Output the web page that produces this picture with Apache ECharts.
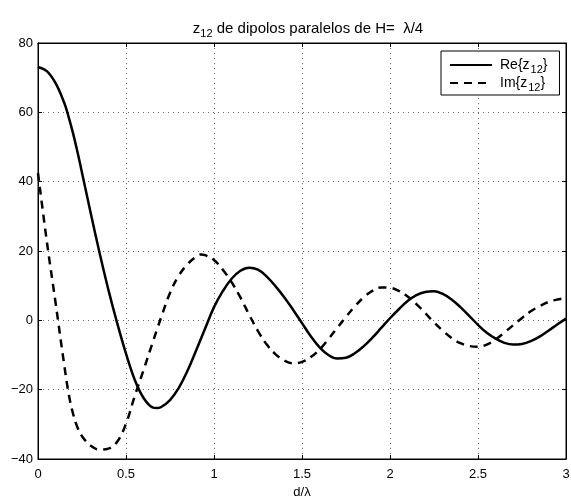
<!DOCTYPE html>
<html>
<head>
<meta charset="utf-8">
<script src="https://cdn.jsdelivr.net/npm/echarts@6/dist/echarts.min.js"></script>
<style>
  html, body { margin: 0; padding: 0; background: #fff; }
  #chart { width: 571px; height: 497px; }
</style>
</head>
<body>
<div id="chart"></div>
<script>
// d/lambda sample points
const dVals = [
  0.00, 0.05, 0.10, 0.15, 0.175, 0.20, 0.225, 0.25, 0.30, 0.35, 0.40, 0.45,
  0.50, 0.55, 0.60, 0.65, 0.675, 0.70, 0.75, 0.80, 0.85, 0.90, 0.925, 0.95,
  1.00, 1.05, 1.10, 1.15, 1.20, 1.25, 1.30, 1.35, 1.40, 1.45,
  1.50, 1.55, 1.60, 1.65, 1.70, 1.75, 1.80, 1.85, 1.90, 1.95,
  2.00, 2.05, 2.10, 2.15, 2.20, 2.25, 2.30, 2.35, 2.40, 2.45,
  2.50, 2.55, 2.60, 2.65, 2.70, 2.75, 2.80, 2.85, 2.90, 2.95,
  3.00
];
// Re{z12}
const reZ12 = [
  73.1, 71.9, 68.4, 62.6, 58.5, 53.8, 48.4, 42.6, 30.8, 19.4, 8.8, -0.8,
  -9.6, -17.2, -22.4, -25.1, -25.3, -25.0, -23.0, -19.5, -14.5, -8.5, -5.4, -2.3,
  3.8, 8.4, 12.0, 14.3, 15.2, 14.6, 12.6, 9.8, 6.6, 3.0,
  -0.8, -4.6, -7.8, -10.0, -11.0, -10.8, -9.5, -7.5, -5.0, -2.2,
  0.6, 3.2, 5.6, 7.3, 8.2, 8.4, 7.6, 6.0, 3.8, 1.3,
  -1.3, -3.6, -5.3, -6.5, -7.0, -6.8, -6.0, -4.7, -3.0, -1.2,
  0.5
];
// Im{z12}
const imZ12 = [
  42.5, 22.8, 5.0, -13.2, -21.4, -27.1, -31.0, -33.4, -36.2, -37.3, -37.0, -35.0,
  -29.8, -21.8, -14.3, -6.6, -2.8, 0.9, 7.9, 12.9, 16.2, 18.4, 19.0, 18.8,
  17.4, 14.6, 11.0, 6.6, 1.6, -3.1, -7.0, -9.8, -11.6, -12.4,
  -12.0, -10.6, -8.4, -5.4, -2.2, 1.0, 4.0, 6.6, 8.5, 9.5,
  9.4, 8.5, 6.9, 4.7, 2.1, -0.6, -3.0, -5.1, -6.6, -7.4,
  -7.6, -7.0, -5.5, -3.5, -1.4, 0.7, 2.6, 4.1, 5.3, 6.0,
  6.4
];

const FONT = 'Liberation Sans';

const chart = echarts.init(document.getElementById('chart'));

const minusFmt = v => String(v).replace('-', '\u2212');

const tickOpts = { inside: true, length: 4, lineStyle: { color: '#000' } };
const dotted = { show: true, lineStyle: { color: '#666', type: [1, 4], width: 1 } };

chart.setOption({
  animation: false,
  title: {
    text: 'z{s|12} de dipolos paralelos de H=  λ/4',
    left: 303,
    textAlign: 'center',
    top: 13,
    textStyle: {
      fontFamily: FONT, fontSize: 15, fontWeight: 'normal', color: '#000',
      rich: { s: { fontFamily: FONT, fontSize: 11, color: '#000', verticalAlign: 'bottom', padding: [10, 0, 0, 0] } }
    }
  },
  legend: {
    orient: 'vertical',
    left: 441,
    top: 51,
    backgroundColor: '#fff',
    borderColor: '#000',
    borderWidth: 1,
    borderRadius: 0,
    padding: [7, 12, 2, 8],
    itemWidth: 42,
    itemHeight: 14,
    itemGap: 1,
    itemStyle: { opacity: 0 },
    data: ['Re', 'Im'],
    formatter: name => name + '{z{s|12}}',
    textStyle: {
      fontFamily: FONT, fontSize: 14, color: '#000', padding: [0, 0, 0, 3],
      rich: { s: { fontFamily: FONT, fontSize: 11, color: '#000', verticalAlign: 'bottom', padding: [9, 0, 0, 1] } }
    }
  },
  grid: {
    left: 38, right: 5, top: 43, bottom: 38,
    outerBoundsMode: 'none',
    show: true, borderColor: '#000', borderWidth: 1
  },
  xAxis: [
    {
      type: 'value', min: 0, max: 3, interval: 0.5,
      name: 'd/λ', nameLocation: 'middle', nameGap: 23,
      nameTextStyle: { fontFamily: FONT, fontSize: 13, color: '#000' },
      axisLine: { show: true, onZero: false, lineStyle: { color: '#000' } },
      axisTick: tickOpts,
      axisLabel: { fontFamily: FONT, fontSize: 13, color: '#000', margin: 9 },
      splitLine: dotted
    },
    {
      type: 'value', min: 0, max: 3, interval: 0.5, position: 'top',
      axisLine: { show: true, onZero: false, lineStyle: { color: '#000' } },
      axisTick: tickOpts, axisLabel: { show: false }, splitLine: { show: false }
    }
  ],
  yAxis: [
    {
      type: 'value', min: -40, max: 80, interval: 20,
      axisLine: { show: true, onZero: false, lineStyle: { color: '#000' } },
      axisTick: tickOpts,
      axisLabel: { fontFamily: FONT, fontSize: 13, color: '#000', margin: 5, formatter: minusFmt },
      splitLine: dotted
    },
    {
      type: 'value', min: -40, max: 80, interval: 20, position: 'right',
      axisLine: { show: true, onZero: false, lineStyle: { color: '#000' } },
      axisTick: tickOpts, axisLabel: { show: false }, splitLine: { show: false }
    }
  ],
  series: [
    {
      name: 'Re', type: 'line', symbol: 'none', smooth: 0.4,
      data: dVals.map((d, i) => [d, reZ12[i]]),
      lineStyle: { color: '#000', width: 2.5, type: 'solid' },
      itemStyle: { color: '#000' }
    },
    {
      name: 'Im', type: 'line', symbol: 'none', smooth: 0.4,
      data: dVals.map((d, i) => [d, imZ12[i]]),
      lineStyle: { color: '#000', width: 2.5, type: [8, 6] },
      itemStyle: { color: '#000' }
    }
  ]
});
</script>
</body>
</html>
